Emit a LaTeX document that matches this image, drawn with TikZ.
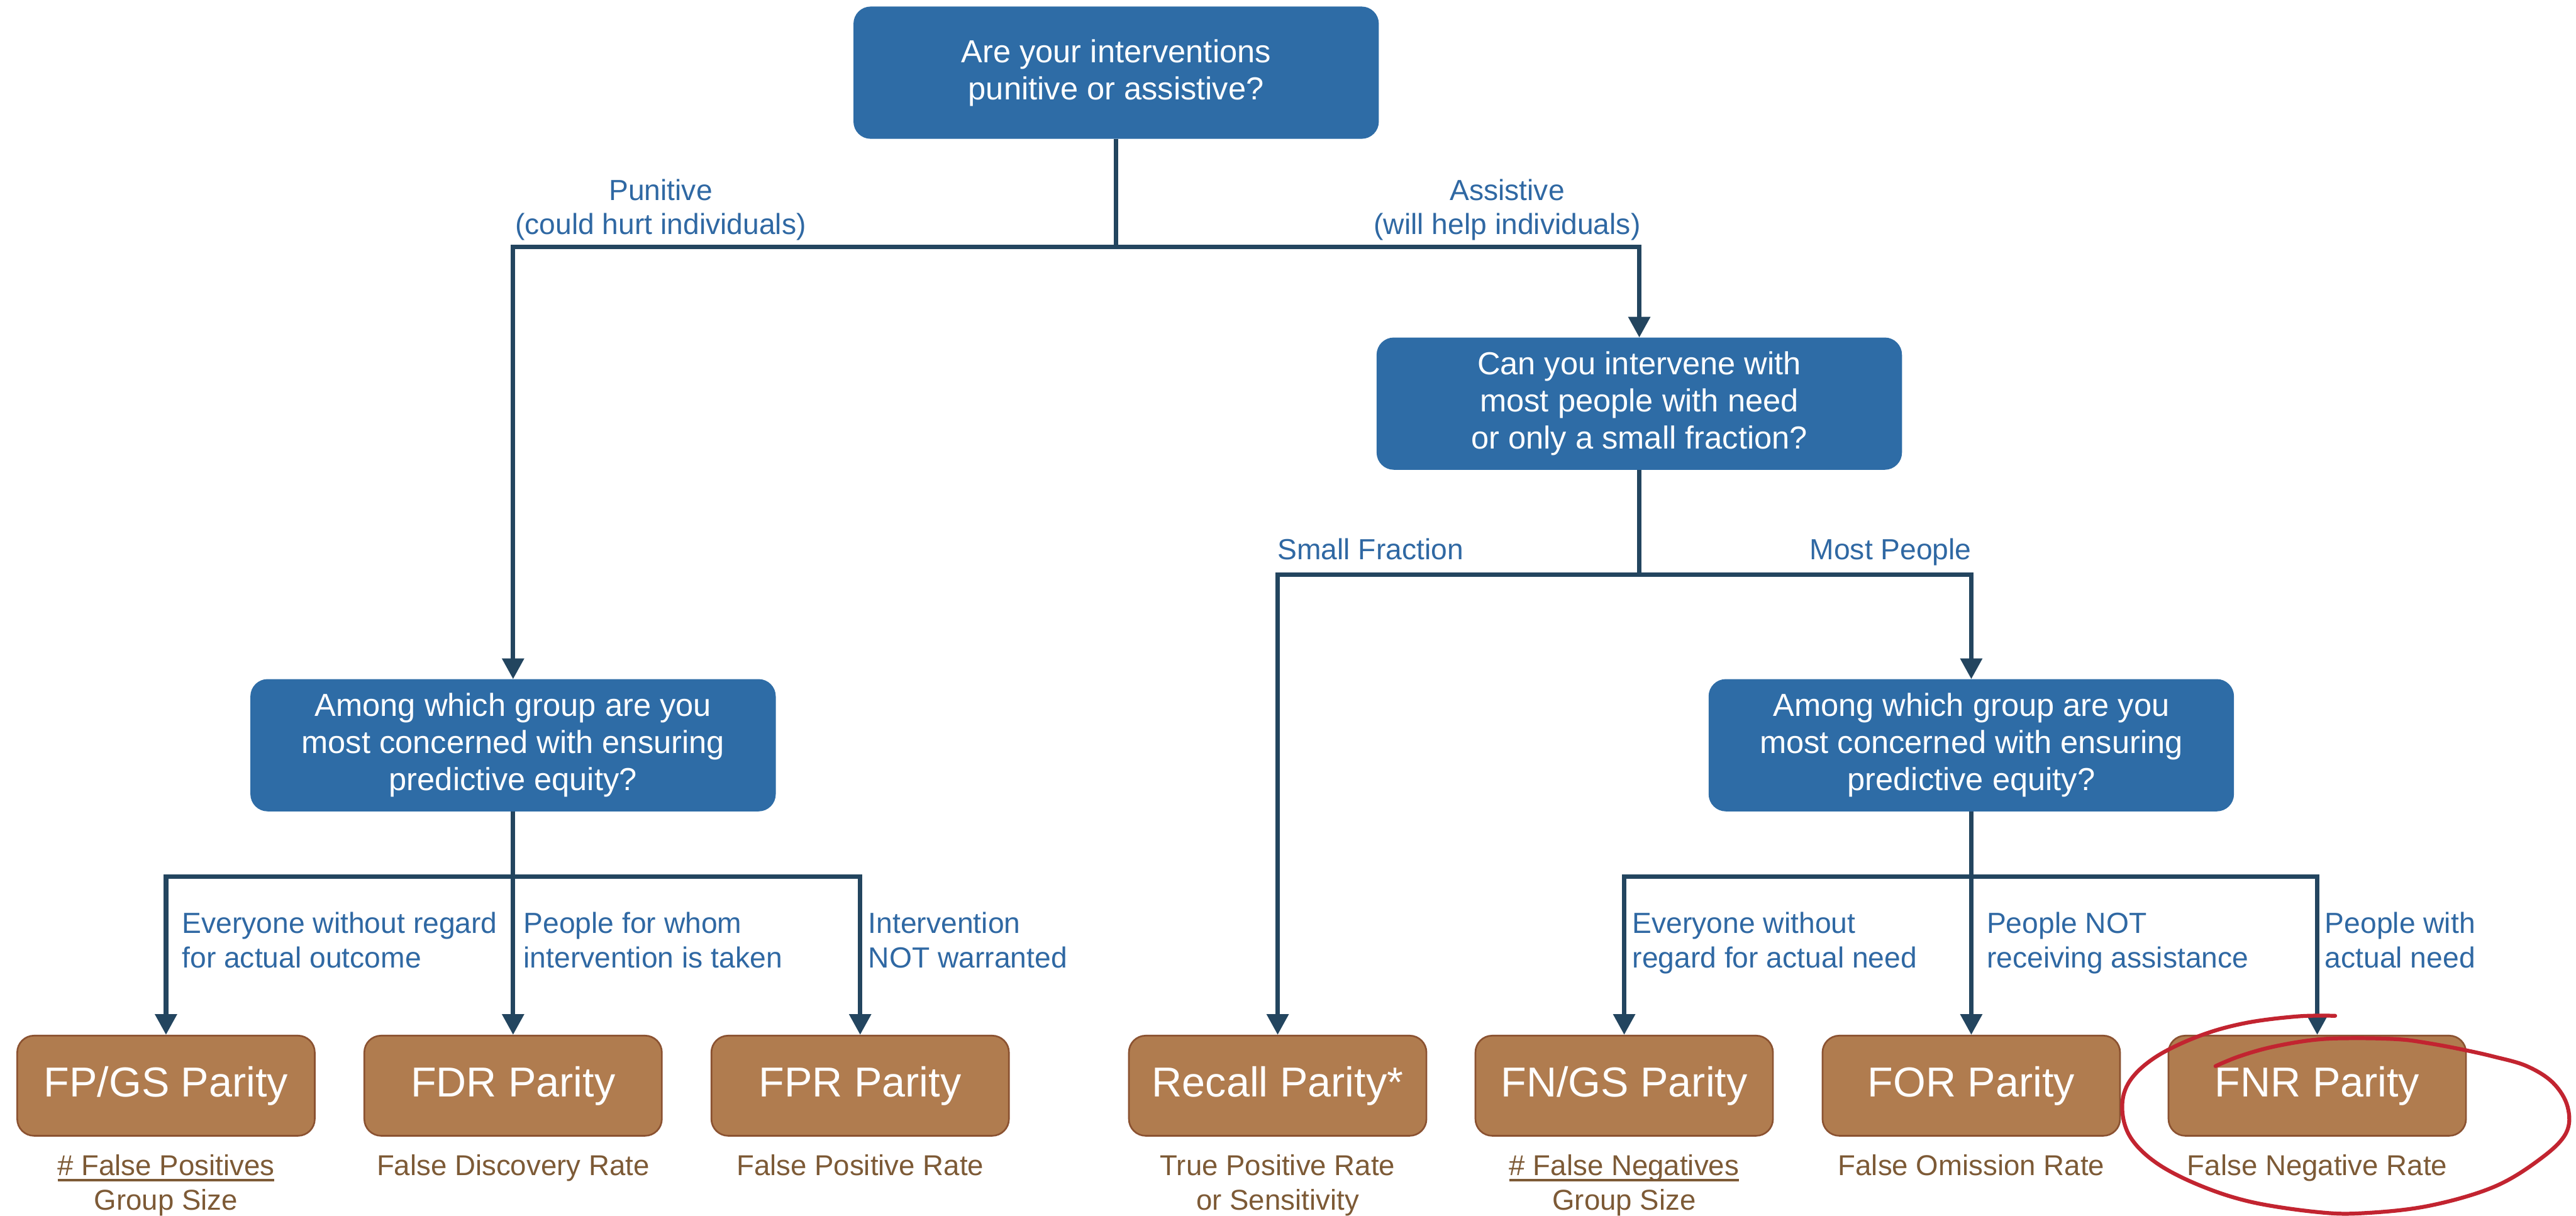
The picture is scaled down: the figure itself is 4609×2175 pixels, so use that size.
\documentclass[tikz,border=0pt]{standalone}
\usepackage{fontspec}
\setmainfont{Liberation Sans}
\usetikzlibrary{arrows.meta}
\definecolor{qblue}{HTML}{2E6CA6}
\definecolor{cdark}{HTML}{23455F}
\definecolor{lblue}{HTML}{2F68A3}
\definecolor{pfill}{HTML}{B07C4F}
\definecolor{pborder}{HTML}{8B5231}
\definecolor{ptext}{HTML}{7D5A36}
\definecolor{redpen}{HTML}{C22430}
\newcommand\myul[1]{\setbox0\hbox{#1}\rlap{\usebox0}\rule[-0.2em]{\wd0}{0.08em}}
\begin{document}
\begin{tikzpicture}[x=0.01cm,y=-0.01cm,
  qbox/.style={draw=qblue, fill=qblue, rounded corners=0.3cm, minimum width=9.38cm, minimum height=2.35cm, text=white, align=center, inner sep=0, font=\fontsize{16.2}{18.8}\selectfont},
  pbox/.style={draw=pborder, line width=0.03cm, fill=pfill, rounded corners=0.3cm, minimum width=5.32cm, minimum height=1.79cm, text=white, inner sep=0, font=\fontsize{21.3}{25}\selectfont},
  lbl/.style={text=lblue, align=left, inner sep=0, font=\fontsize{14.8}{17.4}\selectfont},
  sub/.style={text=ptext, align=center, inner sep=0, font=\fontsize{14.6}{17.4}\selectfont},
  conn/.style={draw=cdark, line width=0.08cm},
  arr/.style={conn, -{Triangle[length=0.37cm, width=0.38cm]}},
  redline/.style={draw=redpen, line width=0.07cm, line cap=round, line join=round}]
\useasboundingbox (0,0) rectangle (4609,2175);

% question boxes
\node[qbox] (q1) at (1997,130) {Are your interventions\\punitive or assistive?};
\node[qbox] (q2) at (2933,722) {Can you intervene with\\most people with need\\or only a small fraction?};
\node[qbox] (qL) at (918,1333) {Among which group are you\\most concerned with ensuring\\predictive equity?};
\node[qbox] (qR) at (3527,1333) {Among which group are you\\most concerned with ensuring\\predictive equity?};

% parity boxes
\node[pbox] (p1) at (297,1942) {FP/GS Parity};
\node[pbox] (p2) at (918,1942) {FDR Parity};
\node[pbox] (p3) at (1539,1942) {FPR Parity};
\node[pbox] (p4) at (2286,1942) {Recall Parity*};
\node[pbox] (p5) at (2906,1942) {FN/GS Parity};
\node[pbox] (p6) at (3527,1942) {FOR Parity};
\node[pbox] (p7) at (4146,1942) {FNR Parity};

% bar levels
\coordinate (b1) at (0,442);
\coordinate (b2) at (0,1028);
\coordinate (b3) at (0,1568);

% connectors
\draw[arr] (q1.south) -- (q1.south |- b1) -| (qL.north);
\draw[arr] (q1.south) -- (q1.south |- b1) -| (q2.north);
\draw[arr] (q2.south) -- (q2.south |- b2) -| (p4.north);
\draw[arr] (q2.south) -- (q2.south |- b2) -| (qR.north);
\draw[arr] (qL.south) -- (qL.south |- b3) -| (p1.north);
\draw[arr] (qL.south) -- (p2.north);
\draw[arr] (qL.south) -- (qL.south |- b3) -| (p3.north);
\draw[arr] (qR.south) -- (qR.south |- b3) -| (p5.north);
\draw[arr] (qR.south) -- (p6.north);
\draw[arr] (qR.south) -- (qR.south |- b3) -| (p7.north);

% branch labels
\node[lbl, anchor=north west, align=center] (lpun) at (921,320) {Punitive\\(could hurt individuals)};
\node[lbl, anchor=north east, align=center] (lass) at (2936,320) {Assistive\\(will help individuals)};
\node[lbl, anchor=north west] (lsmall) at (2285,962) {Small Fraction};
\node[lbl, anchor=north east] (lmost) at (3528,962) {Most People};
\node[lbl, anchor=north west] (l1) at (325,1631) {Everyone without regard\\for actual outcome};
\node[lbl, anchor=north west] (l2) at (936,1631) {People for whom\\intervention is taken};
\node[lbl, anchor=north west] (l3) at (1553,1631) {Intervention\\NOT warranted};
\node[lbl, anchor=north west] (l5) at (2920,1631) {Everyone without\\regard for actual need};
\node[lbl, anchor=north west] (l6) at (3554,1631) {People NOT\\receiving assistance};
\node[lbl, anchor=north west] (l7) at (4159,1631) {People with\\actual need};

% descriptions
\node[sub, anchor=north] (s1) at (297,2065) {\myul{\# False Positives}\\Group Size};
\node[sub, anchor=north] (s2) at (918,2065) {False Discovery Rate};
\node[sub, anchor=north] (s3) at (1539,2065) {False Positive Rate};
\node[sub, anchor=north] (s4) at (2286,2065) {True Positive Rate\\or Sensitivity};
\node[sub, anchor=north] (s5) at (2906,2065) {\myul{\# False Negatives}\\Group Size};
\node[sub, anchor=north] (s6) at (3527,2065) {False Omission Rate};
\node[sub, anchor=north] (s7) at (4146,2065) {False Negative Rate};

% hand-drawn red loop
\draw[redline] plot[smooth, tension=0.6] coordinates {
 (4178,1817) (4111,1818) (4017,1830) (3935,1853) (3858,1890) (3811,1933)
 (3797,1980) (3811,2033) (3858,2080) (3935,2120) (4028,2150) (4146,2168)
 (4228,2170) (4345,2157) (4462,2123) (4545,2073) (4591,2027) (4594,1980)
 (4568,1937) (4521,1907) (4462,1890) (4404,1877) (4345,1866) (4292,1859)
 (4210,1857) (4140,1860) (4064,1873) (4005,1890) (3964,1907)};
\end{tikzpicture}
\end{document}
